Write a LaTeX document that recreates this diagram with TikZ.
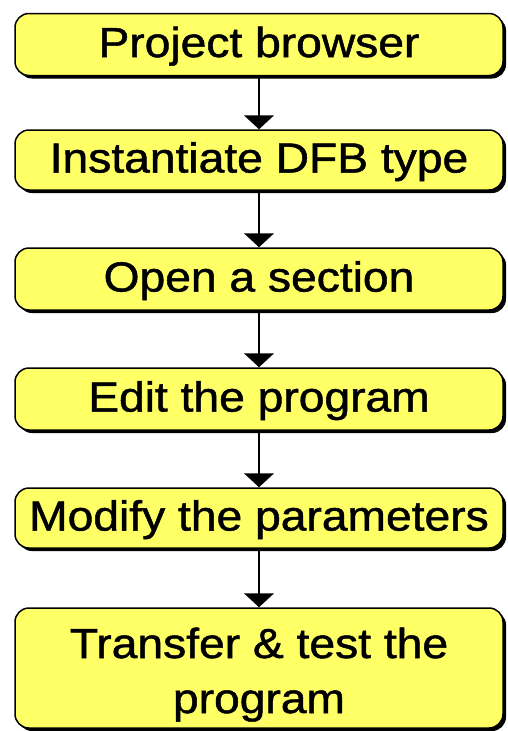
\documentclass[tikz,border=0pt]{standalone}
\usepackage{fontspec}
\setmainfont{Liberation Sans}[FakeStretch=1.1,FakeBold=1.2]
\usetikzlibrary{arrows.meta,shadows}
\definecolor{boxyellow}{RGB}{255,255,102}
\tikzset{
  stepbox/.style={rectangle, rounded corners=14pt, draw=black, line width=1.5pt,
    fill=boxyellow, minimum width=488pt, minimum height=62pt, inner sep=0pt,
    text height=30pt, text depth=5pt,
    font=\fontsize{42pt}{55pt}\selectfont,
    drop shadow={shadow xshift=3pt, shadow yshift=-3pt, fill=black, opacity=1}},
  flow/.style={line width=1.5pt, -{Triangle[width=30pt,length=14pt]}}
}
\begin{document}
\begin{tikzpicture}[x=1pt,y=-1pt]
\useasboundingbox (0,0) rectangle (507,731);
\node[stepbox] (b1) at (259,44.5) {Project browser};
\node[stepbox, minimum height=60pt] (b2) at (259,160) {Instantiate DFB type};
\node[stepbox] (b3) at (259,279) {Open a section};
\node[stepbox] (b4) at (259,399) {Edit the program};
\node[stepbox, minimum height=60pt] (b5) at (259,518) {Modify the parameters};
\node[stepbox, minimum height=120pt, align=center, text height=95pt, text depth=5pt] (b6) at (259,668) {Transfer \& test the\\program};
\draw[flow] (b1) -- (b2);
\draw[flow] (b2) -- (b3);
\draw[flow] (b3) -- (b4);
\draw[flow] (b4) -- (b5);
\draw[flow] (b5) -- (b6);
\end{tikzpicture}
\end{document}
